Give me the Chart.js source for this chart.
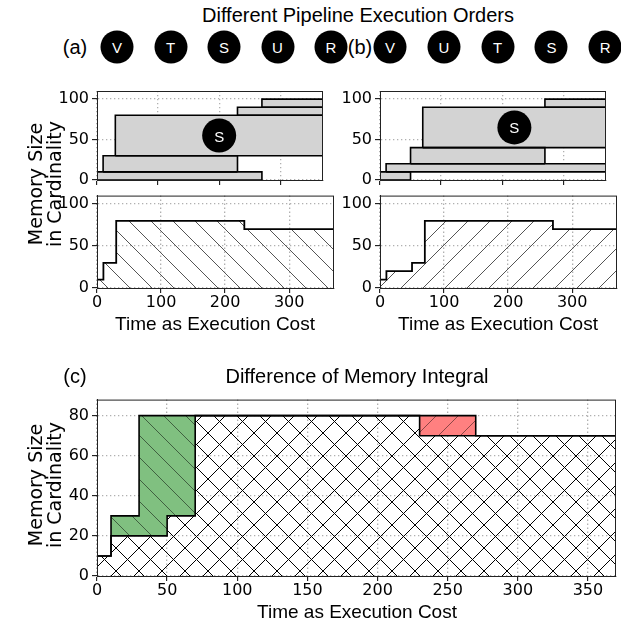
<!DOCTYPE html>
<html>
<head>
<meta charset="utf-8">
<script src="https://cdn.jsdelivr.net/npm/chart.js@4.4.1/dist/chart.umd.min.js"></script>
<style>
html, body { margin: 0; padding: 0; background: #fff; }
#fig { position: relative; width: 621px; height: 630px; overflow: hidden; font-family: "Liberation Sans", Arial, sans-serif; color: #000; }
#fig canvas { position: absolute; }
.txt { position: absolute; white-space: nowrap; transform: translate(-50%, -50%); font-size: 19px; }
.ylab { position: absolute; font-family: "DejaVu Sans", sans-serif; font-size: 19px; line-height: 19px; text-align: center; white-space: nowrap; transform: translate(-50%, -50%) rotate(-90deg); }
.op { position: absolute; width: 33px; height: 33px; border-radius: 50%; background: #000; color: #fff; font-size: 15px; line-height: 33px; text-align: center; transform: translate(-50%, -50%); }
</style>
</head>
<body>
<div id="fig"></div>
<script>
// pipeline (a): operator order, start / end cost, memory of each operator
const orderA = ['V', 'T', 'S', 'U', 'R'];
const startA = [0, 10, 30, 230, 270];
const endA = [270, 230, 370, 370, 370];
const memA = [10, 20, 50, 10, 10];

// pipeline (b)
const orderB = ['V', 'U', 'T', 'S', 'R'];
const startB = [0, 10, 50, 70, 270];
const endB = [50, 370, 270, 370, 370];
const memB = [10, 10, 20, 50, 10];

// total memory in use over time (step starts)
const costSteps = [0, 10, 30, 50, 70, 230, 270, 370];
const usedA = [10, 30, 80, 80, 80, 70, 70, 70];
const usedB = [10, 20, 20, 30, 80, 80, 70, 70];

const fig = document.getElementById('fig');

function hatch(bg, ink, lw, p, dirs) {
    var c = document.createElement('canvas');
    c.width = p; c.height = p;
    var g = c.getContext('2d');
    if (bg) { g.fillStyle = bg; g.fillRect(0, 0, p, p); }
    g.strokeStyle = ink;
    g.lineWidth = lw;
    g.beginPath();
    dirs.forEach(function (d) {
        for (var k = -1; k <= 1; k++) {
            if (d == '/') { g.moveTo(k * p, p); g.lineTo(k * p + p, 0); }
            else { g.moveTo(k * p, 0); g.lineTo(k * p + p, p); }
        }
    });
    g.stroke();
    return g.createPattern(c, 'repeat');
}

const backHatch = hatch(null, '#555', 1, 22, ['\\']);
const fwdHatch = hatch(null, '#555', 1, 22, ['/']);
const crossHatch = hatch(null, '#000', 1, 23, ['/', '\\']);
const greenHatch = hatch('#80c080', 'rgba(0,0,0,0.5)', 1, 22, ['\\']);
const redHatch = hatch('#ff8080', 'rgba(0,0,0,0.45)', 1, 22, ['/']);

// top and right spines
const frame = {
    id: 'frame',
    afterDraw: function (chart) {
        var ctx = chart.ctx, a = chart.chartArea;
        ctx.save();
        ctx.strokeStyle = '#222';
        ctx.lineWidth = 1;
        ctx.strokeRect(a.left + 0.5, a.top + 0.5, a.right - a.left - 1, a.bottom - a.top);
        ctx.restore();
    }
};

function axes(xMax, xStep, yMax, yStep, showX) {
    var grid = { color: '#b0b0b0', lineWidth: 1.3, tickColor: '#000', tickLength: 5, tickBorderDash: [], tickWidth: 1 };
    var border = { display: true, color: '#222', width: 1, dash: [1.3, 2.7] };
    var font = { family: 'DejaVu Sans', size: 16 };
    return {
        x: {
            type: 'linear', min: 0, max: xMax, z: 1, grid: grid, border: border,
            ticks: { stepSize: xStep, includeBounds: false, display: showX, color: '#000', font: font, padding: 0, maxRotation: 0 },
            afterFit: function (s) { s.height = 34; }
        },
        y: {
            type: 'linear', min: 0, max: yMax, z: 1, grid: grid, border: border,
            ticks: { stepSize: yStep, includeBounds: false, color: '#000', font: font, padding: 3 },
            afterFit: function (s) { s.width = 50; }
        }
    };
}

function panel(box, datasets, scales) {
    var cv = document.createElement('canvas');
    cv.width = box.w + 56;
    cv.height = box.h + 40;
    cv.style.left = (box.x - 50) + 'px';
    cv.style.top = (box.y - 6) + 'px';
    fig.appendChild(cv);
    var chart = new Chart(cv, {
        type: 'line',
        data: { datasets: datasets },
        options: {
            responsive: false, animation: false, events: [],
            layout: { padding: { top: 6, right: 6, left: 0, bottom: 0 } },
            plugins: { legend: { display: false }, tooltip: { enabled: false }, filler: { drawTime: 'beforeDatasetsDraw' } },
            elements: { point: { radius: 0 }, line: { tension: 0 } },
            scales: scales
        },
        plugins: [frame]
    });
    chart.box = box;
    return chart;
}

function ganttSets(order, start, end, mem) {
    var sets = [], marker = null, low = 0;
    order.forEach(function (op, i) {
        var high = low + mem[i];
        sets.push({
            data: [{ x: start[i], y: low }, { x: start[i], y: high }, { x: end[i], y: high }, { x: end[i], y: low }],
            borderColor: '#000', borderWidth: 1.6, backgroundColor: '#d3d3d3', fill: { value: low }
        });
        sets.push({
            data: [{ x: start[i], y: low }, { x: end[i], y: low }],
            borderColor: '#000', borderWidth: 1.6, fill: false
        });
        if (op == 'S') marker = { x: (start[i] + end[i]) / 2, y: (low + high) / 2 };
        low = high;
    });
    sets.unshift({ data: [marker], showLine: false, pointRadius: 17, pointBackgroundColor: '#000', pointBorderWidth: 0 });
    return sets;
}

function steps(values) {
    return costSteps.map(function (t, i) { return { x: t, y: values[i] }; });
}

function text(str, x, y, cls) {
    var d = document.createElement('div');
    d.className = cls || 'txt';
    d.innerHTML = str;
    d.style.left = x + 'px';
    d.style.top = y + 'px';
    fig.appendChild(d);
    return d;
}

function markLabel(chart) {
    var p = chart.data.datasets[0].data[0];
    var x = chart.scales.x.getPixelForValue(p.x) + chart.box.x - 50;
    var y = chart.scales.y.getPixelForValue(p.y) + chart.box.y - 6;
    var d = text('S', x, y, 'op');
    d.style.background = 'transparent';
}

// (a)
var ganttA = panel({ x: 97, y: 80, w: 237, h: 100 }, ganttSets(orderA, startA, endA, memA), axes(370, 100, 110, 50, false));
markLabel(ganttA);
panel({ x: 97, y: 189, w: 237, h: 99 }, [
    { data: steps(usedA), stepped: 'before', borderColor: '#000', borderWidth: 1.8, fill: 'origin', backgroundColor: backHatch }
], axes(370, 100, 110, 50, true));

// (b)
var ganttB = panel({ x: 380, y: 80, w: 237, h: 100 }, ganttSets(orderB, startB, endB, memB), axes(370, 100, 110, 50, false));
markLabel(ganttB);
panel({ x: 380, y: 189, w: 237, h: 99 }, [
    { data: steps(usedB), stepped: 'before', borderColor: '#000', borderWidth: 1.8, fill: 'origin', backgroundColor: fwdHatch }
], axes(370, 100, 110, 50, true));

// (c)
panel({ x: 97, y: 393, w: 519, h: 183 }, [
    { data: steps(usedA), stepped: 'before', borderColor: '#000', borderWidth: 1.6, fill: { target: 1, above: greenHatch, below: redHatch } },
    { data: steps(usedB), stepped: 'before', borderColor: '#000', borderWidth: 1.6, fill: 'origin', backgroundColor: crossHatch }
], axes(370, 50, 88, 20, true));

// texts
text('Different Pipeline Execution Orders', 358, 15).style.fontSize = '20px';
text('(a)', 75, 47).style.fontSize = '20px';
text('(b)', 360, 47).style.fontSize = '20px';
orderA.forEach(function (op, i) { text(op, 117 + i * 53.5, 47, 'op'); });
orderB.forEach(function (op, i) { text(op, 390 + i * 53.8, 47, 'op'); });
text('Memory Size<br>in Cardinality', 45, 184, 'ylab');
text('Time as Execution Cost', 215, 324);
text('Time as Execution Cost', 498, 324);
text('(c)', 75, 376).style.fontSize = '20px';
text('Difference of Memory Integral', 357, 376).style.fontSize = '20px';
text('Memory Size<br>in Cardinality', 45, 485, 'ylab');
text('Time as Execution Cost', 357, 612);
</script>
</body>
</html>
